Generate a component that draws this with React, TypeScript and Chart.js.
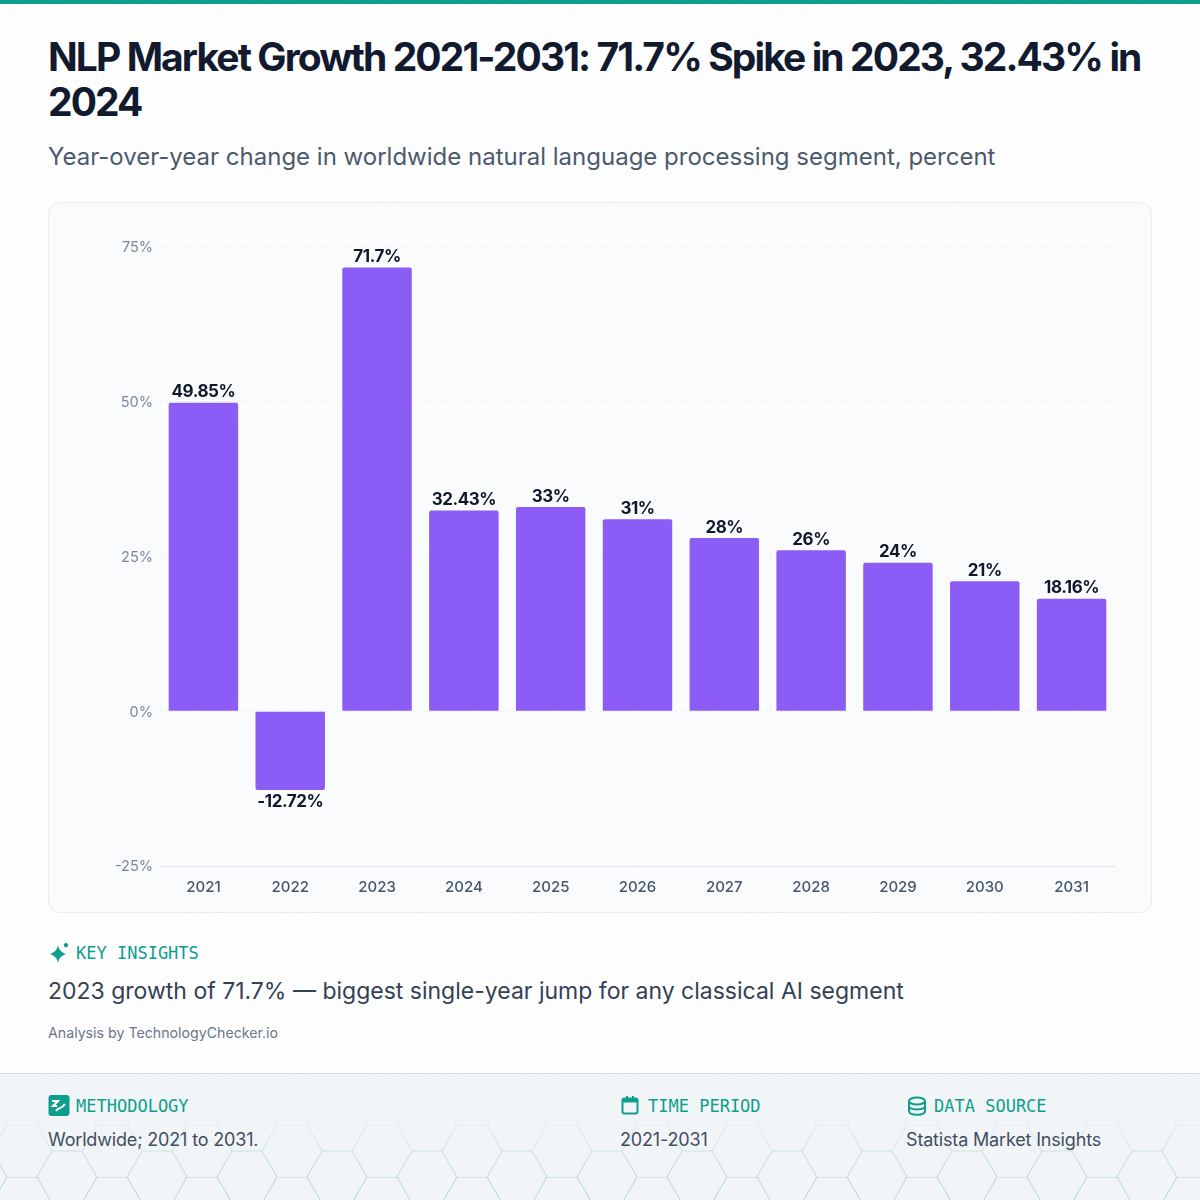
import React, { useEffect, useRef } from "react";
import { Chart, registerables } from "chart.js";

Chart.register(...registerables);

const years = ["2021", "2022", "2023", "2024", "2025", "2026", "2027", "2028", "2029", "2030", "2031"];
const growth = [49.85, -12.72, 71.7, 32.43, 33, 31, 28, 26, 24, 21, 18.16];
const yTicks = [-25, 0, 25, 50, 75];

const SANS = "Inter, 'Noto Sans', sans-serif";
const MONO = "'DejaVu Sans Mono', 'Liberation Mono', monospace";
const TEAL = "#0d9f8c";

const valueLabels = {
  id: "valueLabels",
  afterDatasetsDraw(chart: any) {
    const { ctx } = chart;
    const meta = chart.getDatasetMeta(0);
    ctx.save();
    ctx.font = `700 17px ${SANS}`;
    ctx.letterSpacing = "-0.45px";
    ctx.fillStyle = "#0f172a";
    ctx.textAlign = "center";
    ctx.textBaseline = "middle";
    meta.data.forEach((bar: any, i: number) => {
      const v = growth[i];
      const y = v >= 0 ? bar.y - 10.5 : bar.y + 12;
      ctx.fillText(`${v}%`, bar.x, y);
    });
    ctx.restore();
  },
};

function Label({ x, y, text, icon }: { x: number; y: number; text: string; icon: React.ReactNode }) {
  return (
    <div style={{ position: "absolute", left: x, top: y, height: 24, display: "flex", alignItems: "center", color: TEAL, fontFamily: MONO, fontSize: 17, fontWeight: 500 }}>
      <svg width="22" height="22" viewBox="0 0 22 22" style={{ marginRight: 6 }}>{icon}</svg>
      {text}
    </div>
  );
}

const bodyText: React.CSSProperties = { position: "absolute", top: 1127, fontSize: 18, letterSpacing: -0.17, lineHeight: "26px", color: "#414e60", whiteSpace: "nowrap" };

export default function App() {
  const ref = useRef<HTMLCanvasElement>(null);
  useEffect(() => {
    const chart = new Chart(ref.current!, {
      type: "bar",
      data: {
        labels: years,
        datasets: [{ data: growth, backgroundColor: "#8b5cf6", borderRadius: 2, categoryPercentage: 0.8, barPercentage: 1 }],
      },
      options: {
        responsive: false,
        animation: false,
        devicePixelRatio: 1,
        layout: { padding: { top: 44, right: 36, left: 0, bottom: 0 } },
        plugins: { legend: { display: false }, tooltip: { enabled: false } },
        scales: {
          x: {
            afterFit: (s: any) => { s.height = 46; },
            grid: { display: false },
            border: { display: false },
            ticks: { color: "#475569", font: { family: SANS, size: 15, weight: 500 }, padding: 4, maxRotation: 0 },
          },
          y: {
            min: -25,
            max: 75,
            afterFit: (s: any) => { s.width = 111; },
            afterBuildTicks: (s: any) => { s.ticks = yTicks.map((value) => ({ value })); },
            grid: {
              drawTicks: false,
              lineWidth: 1,
              color: (c: any) => (c.tick && c.tick.value === -25 ? "#dde3ef" : "rgba(203,213,225,0.3)"),
            },
            border: { display: false, dash: (c: any) => (c.tick && c.tick.value === -25 ? [] : [2, 3]) },
            ticks: { color: "#7b8796", font: { family: SANS, size: 14.5 }, padding: 7, labelOffset: 1, callback: (v: any) => `${v}%` },
          },
        },
      },
      plugins: [valueLabels],
    } as any);
    return () => chart.destroy();
  }, []);

  return (
    <div style={{ position: "absolute", left: 0, top: 0, width: 1200, height: 1200, overflow: "hidden", background: "#fff", backgroundImage: "repeating-linear-gradient(135deg, #f9fafb 0 1px, #ffffff 1px 4px)", fontFamily: SANS }}>
      <div style={{ position: "absolute", left: 0, top: 0, width: 1200, height: 4, background: "#0d9f8c" }} />
      <div style={{ position: "absolute", left: 48, top: 34, width: 1110, fontSize: 39, lineHeight: "45px", fontWeight: 700, letterSpacing: -1.9, color: "#111a2e" }}>
        NLP Market Growth 2021-2031: 71.7% Spike in 2023, 32.43% in 2024
      </div>
      <div style={{ position: "absolute", left: 48, top: 141, fontSize: 24, lineHeight: "32px", color: "#4b5a6d", whiteSpace: "nowrap" }}>
        Year-over-year change in worldwide natural language processing segment, percent
      </div>
      <div style={{ position: "absolute", left: 48, top: 202, width: 1102, height: 709, border: "1px solid #e8ecf1", borderRadius: 12, background: "#f9fbfd" }}>
        <canvas ref={ref} width={1102} height={709} style={{ display: "block" }} />
      </div>

      <Label x={48} y={941} text="KEY INSIGHTS" icon={<path fill={TEAL} d="M10 3 C11 8 13 10 18 12 C13 14 11 16 10 21 C9 16 7 14 2 12 C7 10 9 8 10 3 Z M18 1 a2.200 2.200 0 1 0 .01 0 Z" />} />
      <div style={{ position: "absolute", left: 48, top: 975, fontSize: 23, lineHeight: "32px", color: "#334155", whiteSpace: "nowrap" }}>
        2023 growth of 71.7% — biggest single-year jump for any classical AI segment
      </div>
      <div style={{ position: "absolute", left: 48, top: 1023, fontSize: 14.2, lineHeight: "20px", color: "#6b7787", whiteSpace: "nowrap" }}>
        Analysis by TechnologyChecker.io
      </div>

      <div style={{ position: "absolute", left: 0, top: 1073, width: 1200, height: 127, background: "#f2f5f7", borderTop: "1px solid #c9e2de", boxSizing: "border-box" }} />
      <svg width="1200" height="127" style={{ position: "absolute", left: 0, top: 1073 }}>
        <defs>
          <pattern id="hex" width="90" height="52" patternUnits="userSpaceOnUse" patternTransform="translate(7 0)">
            <path d="M0 0H30L45 26H75L90 0M45 26L30 52M75 26L90 52" fill="none" stroke="#a9d8d0" strokeWidth="1" />
          </pattern>
          <linearGradient id="fade" x1="0" y1="0" x2="0" y2="1">
            <stop offset="0.25" stopColor="#fff" stopOpacity="0" />
            <stop offset="0.85" stopColor="#fff" stopOpacity="1" />
          </linearGradient>
          <mask id="m"><rect width="1200" height="127" fill="url(#fade)" /></mask>
        </defs>
        <rect width="1200" height="127" fill="url(#hex)" mask="url(#m)" />
      </svg>

      <Label x={48} y={1094} text="METHODOLOGY" icon={<><rect x="0.500" y="0" width="21" height="21" rx="3" fill={TEAL} /><path d="M4 6H10L5 11H9M8 16C11 11 13 15 17 9" fill="none" stroke="#fff" strokeWidth="2" /></>} />
      <Label x={620} y={1094} text="TIME PERIOD" icon={<><rect x="2.500" y="3.500" width="15" height="15" rx="2" fill="none" stroke={TEAL} strokeWidth="2" /><rect x="2.500" y="3.500" width="15" height="4" fill={TEAL} /><rect x="6" y="1" width="2" height="3" fill={TEAL} /><rect x="12" y="1" width="2" height="3" fill={TEAL} /></>} />
      <Label x={906} y={1094} text="DATA SOURCE" icon={<g fill="none" stroke={TEAL} strokeWidth="2"><ellipse cx="11" cy="6" rx="8" ry="3.500" /><path d="M3 6V16C3 21 19 21 19 16V6M3 11C3 15.500 19 15.500 19 11" /></g>} />
      <div style={{ ...bodyText, left: 48 }}>Worldwide; 2021 to 2031.</div>
      <div style={{ ...bodyText, left: 620 }}>2021-2031</div>
      <div style={{ ...bodyText, left: 906 }}>Statista Market Insights</div>
    </div>
  );
}
